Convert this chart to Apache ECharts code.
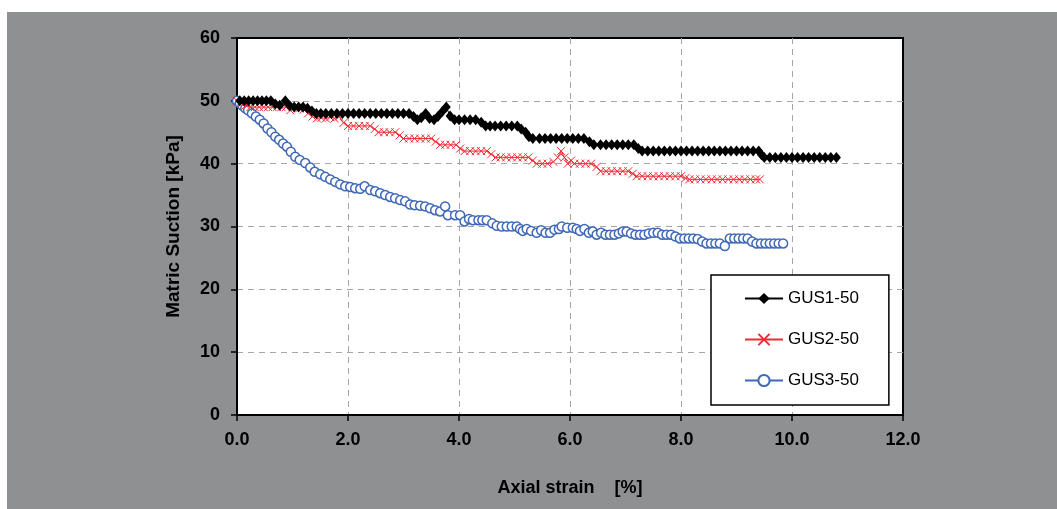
<!DOCTYPE html>
<html>
<head>
<meta charset="utf-8">
<script src="https://cdn.jsdelivr.net/npm/echarts@6/dist/echarts.min.js"></script>
<style>
  html, body { margin: 0; padding: 0; background: #ffffff; width: 1057px; height: 509px; overflow: hidden; }
  #chart { position: absolute; left: 7px; top: 12px; width: 1050px; height: 497px; background: #8f9092; }
</style>
</head>
<body>
<div id="chart"></div>
<script>
// Matric suction [kPa] against axial strain [%] for three specimens
const seriesNames = ['GUS1-50', 'GUS2-50', 'GUS3-50'];

const gus1 = [
  [0.05,50],[0.13,50],[0.21,50],[0.29,50],[0.37,50],[0.45,50],[0.53,50],[0.61,50],[0.69,49.5],[0.77,49.3],
  [0.87,50],[0.95,49.2],[1.03,49],[1.11,49],[1.19,49],[1.27,48.8],[1.35,48.4],[1.43,48],[1.51,48],[1.6,48],
  [1.7,48],[1.8,48],[1.9,48],[2.0,48],[2.1,48],[2.2,48],[2.3,48],[2.4,48],[2.5,48],[2.6,48],
  [2.7,48],[2.8,48],[2.9,48],[3.0,48],[3.1,48],[3.18,47.5],[3.25,47],[3.32,47.3],[3.4,48],[3.47,47.2],
  [3.55,47],[3.62,47.5],[3.7,48.3],[3.77,49],[3.84,47.6],[3.92,47],[4.0,47],[4.1,47],[4.2,47],[4.3,47],
  [4.4,46.6],[4.48,46],[4.56,46],[4.65,46],[4.75,46],[4.85,46],[4.95,46],[5.05,46],[5.12,45.5],[5.2,45],
  [5.26,44.3],[5.33,44],[5.45,44],[5.55,44],[5.65,44],[5.75,44],[5.85,44],[5.95,44],[6.05,44],[6.15,44],
  [6.25,44],[6.35,43.5],[6.43,43],[6.55,43],[6.65,43],[6.75,43],[6.85,43],[6.95,43],[7.05,43],[7.15,43],
  [7.23,42.4],[7.3,42],[7.4,42],[7.5,42],[7.6,42],[7.7,42],[7.8,42],[7.9,42],[8.0,42],[8.1,42],
  [8.2,42],[8.3,42],[8.4,42],[8.5,42],[8.6,42],[8.7,42],[8.8,42],[8.9,42],[9.0,42],[9.1,42],
  [9.2,42],[9.3,42],[9.4,42],[9.45,41.4],[9.5,41],[9.6,41],[9.7,41],[9.8,41],[9.9,41],[10.0,41],
  [10.1,41],[10.2,41],[10.3,41],[10.4,41],[10.5,41],[10.6,41],[10.7,41],[10.8,41]
];

const gus2 = [
  [0.0,50],[0.08,49.6],[0.16,49.3],[0.24,49],[0.32,49],[0.4,49],[0.48,49],[0.56,49],[0.64,49],[0.72,49],
  [0.8,49],[0.88,49],[0.96,48.5],[1.04,49],[1.12,48.8],[1.2,48.6],[1.28,48],[1.36,47.5],[1.44,47.2],[1.52,47.3],
  [1.6,47.2],[1.68,47.4],[1.76,47.2],[1.84,47.5],[1.92,46.5],[2.0,46],[2.1,46],[2.2,46],[2.3,46],[2.4,46],
  [2.48,45.5],[2.55,45],[2.65,45],[2.75,45],[2.85,45],[2.93,44.5],[3.0,44],[3.1,44],[3.2,44],[3.3,44],
  [3.4,44],[3.5,44],[3.58,43.5],[3.66,43],[3.75,43],[3.85,43],[3.95,43],[4.02,42.4],[4.1,42],[4.2,42],
  [4.3,42],[4.4,42],[4.5,42],[4.58,41.5],[4.66,41],[4.75,41],[4.85,41],[4.95,41],[5.05,41],[5.15,41],
  [5.25,41],[5.33,40.5],[5.4,40],[5.5,40],[5.6,40],[5.7,40.3],[5.78,41],[5.84,42],[5.9,41],[5.96,40],
  [6.02,40.5],[6.08,40],[6.18,40],[6.28,40],[6.38,40],[6.48,39.5],[6.55,38.8],[6.65,38.8],[6.75,38.8],[6.85,38.8],
  [6.95,38.8],[7.05,38.8],[7.13,38.4],[7.2,38],[7.3,38],[7.4,38],[7.5,38],[7.6,38],[7.7,38],[7.8,38],
  [7.9,38],[8.0,38],[8.08,37.7],[8.15,37.5],[8.25,37.5],[8.35,37.5],[8.45,37.5],[8.55,37.5],[8.65,37.5],[8.75,37.5],
  [8.85,37.5],[8.95,37.5],[9.05,37.5],[9.15,37.5],[9.25,37.5],[9.35,37.5],[9.42,37.5]
];

const gus3 = [
  [0,50],[0.05,49.6],[0.1,49.2],[0.15,48.8],[0.2,48.5],[0.27,48],[0.34,47.5],[0.41,47],[0.48,46.4],[0.55,45.6],
  [0.62,45],[0.69,44.3],[0.76,43.8],[0.83,43.2],[0.9,42.7],[0.97,41.9],[1.05,41.1],[1.13,40.6],[1.23,40.1],[1.32,39.4],
  [1.4,38.7],[1.5,38.3],[1.59,37.9],[1.68,37.5],[1.77,37.1],[1.86,36.7],[1.95,36.4],[2.04,36.3],[2.13,36.1],[2.22,36.0],
  [2.3,36.4],[2.4,35.8],[2.49,35.6],[2.58,35.3],[2.67,35.0],[2.76,34.7],[2.85,34.5],[2.94,34.2],[3.03,34.0],[3.12,33.5],
  [3.2,33.4],[3.3,33.3],[3.39,33.2],[3.48,32.9],[3.57,32.6],[3.66,32.4],[3.75,33.2],[3.8,31.8],[3.93,31.8],[4.02,31.8],
  [4.1,30.8],[4.18,31.2],[4.25,31.0],[4.35,31.0],[4.42,31.0],[4.5,31.0],[4.6,30.5],[4.68,30.1],[4.77,30.0],[4.86,30.0],
  [4.95,30.0],[5.04,30.0],[5.1,29.6],[5.15,29.3],[5.22,29.6],[5.3,29.3],[5.4,29.0],[5.48,29.4],[5.56,29.0],[5.64,29.0],
  [5.72,29.5],[5.8,29.6],[5.85,30.0],[5.95,29.8],[6.05,29.8],[6.12,29.6],[6.18,29.3],[6.26,29.6],[6.34,29.0],[6.41,29.2],
  [6.48,28.7],[6.56,29.0],[6.64,28.7],[6.72,28.7],[6.8,28.7],[6.88,28.9],[6.95,29.2],[7.02,29.2],[7.1,28.9],[7.18,28.7],
  [7.26,28.7],[7.34,28.7],[7.42,28.9],[7.5,29.0],[7.58,29.0],[7.66,28.7],[7.74,28.7],[7.82,28.7],[7.9,28.4],[7.98,28.1],
  [8.06,28.1],[8.14,28.1],[8.22,28.1],[8.3,28.0],[8.38,27.6],[8.46,27.3],[8.54,27.3],[8.62,27.3],[8.7,27.3],[8.79,26.9],
  [8.88,28.1],[8.96,28.1],[9.04,28.1],[9.12,28.1],[9.2,28.1],[9.28,27.6],[9.36,27.3],[9.44,27.3],[9.52,27.3],[9.6,27.3],
  [9.68,27.3],[9.76,27.3],[9.84,27.3]
];

const xTicks = { min: 0, max: 12, step: 2 };
const yTicks = { min: 0, max: 60, step: 10 };

const chart = echarts.init(document.getElementById('chart'), null, { renderer: 'canvas' });

const fontFamily = 'Liberation Sans, Arial, sans-serif';
const labelFont = { color: '#000', fontFamily: fontFamily, fontWeight: 'bold', fontSize: 18 };
const nameFont = { color: '#000', fontFamily: fontFamily, fontWeight: 'bold', fontSize: 18 };
const gridLine = { show: true, showMinLine: false, showMaxLine: false, lineStyle: { color: '#a6a6a6', type: [6, 5], width: 1 } };

chart.setOption({
  backgroundColor: 'transparent',
  animation: false,
  grid: {
    left: 230, top: 26, right: 154, bottom: 94,
    show: true, backgroundColor: '#ffffff', borderColor: '#000', borderWidth: 2
  },
  legend: {
    data: seriesNames,
    orient: 'vertical',
    left: 704, top: 263,
    padding: [15, 30, 16, 33],
    itemGap: 24,
    itemWidth: 38,
    itemHeight: 14,
    backgroundColor: '#ffffff',
    borderColor: '#000',
    borderWidth: 1.5,
    textStyle: { color: '#000', fontFamily: fontFamily, fontSize: 17 }
  },
  xAxis: {
    type: 'value',
    min: xTicks.min, max: xTicks.max, interval: xTicks.step,
    name: 'Axial strain    [%]',
    nameLocation: 'middle',
    nameGap: 64,
    nameTextStyle: nameFont,
    axisLine: { show: true, lineStyle: { color: '#000', width: 2 } },
    axisTick: { show: true, inside: false, length: 6, lineStyle: { color: '#000', width: 1.5 } },
    axisLabel: Object.assign({ margin: 16, formatter: v => v.toFixed(1) }, labelFont),
    splitLine: gridLine
  },
  yAxis: {
    type: 'value',
    min: yTicks.min, max: yTicks.max, interval: yTicks.step,
    name: 'Matric Suction [kPa]',
    nameLocation: 'middle',
    nameGap: 54,
    nameTextStyle: Object.assign({}, nameFont, { fontSize: 19 }),
    axisLine: { show: true, lineStyle: { color: '#000', width: 2 } },
    axisTick: { show: true, inside: false, length: 6, lineStyle: { color: '#000', width: 1.5 } },
    axisLabel: Object.assign({ margin: 17 }, labelFont),
    splitLine: gridLine
  },
  series: [
    {
      name: seriesNames[0], type: 'line', data: gus1, z: 4,
      symbol: 'diamond', symbolSize: [9, 11], showAllSymbol: true,
      lineStyle: { color: '#000', width: 1 },
      itemStyle: { color: '#000' }
    },
    {
      name: seriesNames[1], type: 'line', data: gus2, z: 3,
      symbol: 'path://M0,0L10,10M10,0L0,10', symbolSize: 8, showAllSymbol: true,
      lineStyle: { color: '#ef2b33', width: 1 },
      itemStyle: { color: 'none', borderColor: '#ef2b33', borderWidth: 1 }
    },
    {
      name: seriesNames[2], type: 'line', data: gus3, z: 2,
      symbol: 'circle', symbolSize: 9, showAllSymbol: true,
      lineStyle: { color: '#3f69b8', width: 2.5 },
      itemStyle: { color: '#ffffff', borderColor: '#3f69b8', borderWidth: 1.5 }
    }
  ]
});
</script>
</body>
</html>
